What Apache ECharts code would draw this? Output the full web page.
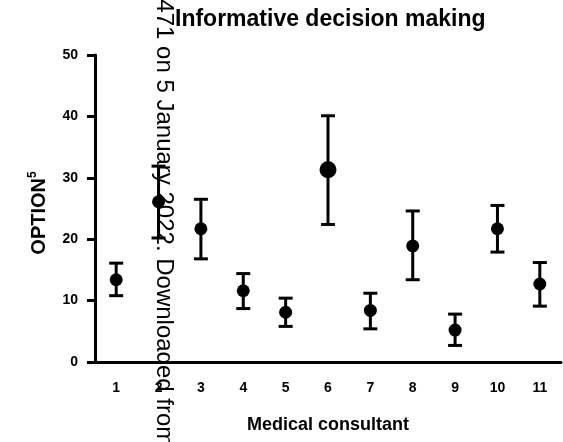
<!DOCTYPE html>
<html>
<head>
<meta charset="utf-8">
<script src="https://cdn.jsdelivr.net/npm/echarts@6/dist/echarts.min.js"></script>
<style>
html,body{margin:0;padding:0;background:#fff;}
#chart{width:563px;height:442px;}
</style>
</head>
<body>
<div id="chart"></div>
<script>
const categories = ['1','2','3','4','5','6','7','8','9','10','11'];
const means = [13.4, 26.1, 21.7, 11.6, 8.1, 31.3, 8.4, 18.9, 5.2, 21.7, 12.7];
const upperBars = [16.1, 31.9, 26.5, 14.4, 10.4, 40.1, 11.2, 24.6, 7.8, 25.5, 16.2];
const lowerBars = [10.8, 20.2, 16.8, 8.7, 5.8, 22.4, 5.4, 13.4, 2.7, 17.9, 9.1];
const markerSizes = [13, 13, 13, 13, 13, 17, 13, 13, 13, 13, 13];
const titleText = 'Informative decision making';
const xName = 'Medical consultant';
const watermark = '6471 on 5 January 2022. Downloaded from';

const FONT = 'Liberation Sans, Arial, sans-serif';
const chart = echarts.init(document.getElementById('chart'), null, {renderer: 'canvas'});

const errData = categories.map((c, i) => [i, lowerBars[i], upperBars[i]]);
const dotData = categories.map((c, i) => ({value: [i, means[i]], symbolSize: markerSizes[i]}));

const option = {
  animation: false,
  backgroundColor: '#fff',
  title: {
    text: titleText,
    left: 175, top: 8, padding: 0,
    textStyle: {fontFamily: FONT, fontWeight: 'bold', fontSize: 23, color: '#000'}
  },
  grid: {left: 95, right: 2, top: 55, bottom: 80, containLabel: false},
  xAxis: {
    type: 'category', data: categories, boundaryGap: true,
    axisLine: {lineStyle: {color: '#000', width: 3}},
    axisTick: {alignWithLabel: true, length: 7, lineStyle: {color: '#000', width: 3}},
    axisLabel: {margin: 19, fontFamily: FONT, fontWeight: 'bold', fontSize: 14, color: '#000'},
    name: xName, nameLocation: 'middle', nameGap: 54,
    nameTextStyle: {fontFamily: FONT, fontWeight: 'bold', fontSize: 18, color: '#000'}
  },
  yAxis: {
    type: 'value', min: 0, max: 50, interval: 10,
    splitLine: {show: false},
    axisLine: {show: true, lineStyle: {color: '#000', width: 3}},
    axisTick: {show: true, length: 8, lineStyle: {color: '#000', width: 3}},
    axisLabel: {margin: 17, fontFamily: FONT, fontWeight: 'bold', fontSize: 14, color: '#000'},
    name: '{a|OPTION}{s|5}', nameLocation: 'middle', nameRotate: 90, nameGap: 46,
    nameTextStyle: {
      padding: [0, 9, 0, 0],
      rich: {
        a: {fontFamily: FONT, fontWeight: 'bold', fontSize: 20, color: '#000', lineHeight: 22, verticalAlign: 'bottom'},
        s: {fontFamily: FONT, fontWeight: 'bold', fontSize: 12, color: '#000', lineHeight: 22, verticalAlign: 'top'}
      }
    }
  },
  series: [
    {
      type: 'custom',
      data: errData,
      z: 2,
      renderItem: function (params, api) {
        const x = api.value(0);
        const lo = api.coord([x, api.value(1)]);
        const hi = api.coord([x, api.value(2)]);
        const hw = 7;
        const st = {stroke: '#000', lineWidth: 3, fill: null};
        return {
          type: 'group',
          children: [
            {type: 'line', shape: {x1: lo[0], y1: lo[1], x2: hi[0], y2: hi[1]}, style: st},
            {type: 'line', shape: {x1: hi[0] - hw, y1: hi[1], x2: hi[0] + hw, y2: hi[1]}, style: st},
            {type: 'line', shape: {x1: lo[0] - hw, y1: lo[1], x2: lo[0] + hw, y2: lo[1]}, style: st}
          ]
        };
      }
    },
    {
      type: 'scatter',
      data: dotData,
      symbol: 'circle',
      z: 3,
      itemStyle: {color: '#000', opacity: 1}
    }
  ],
  graphic: [
    {
      type: 'text',
      x: 164, y: -14,
      rotation: -Math.PI / 2,
      z: 100,
      style: {
        text: watermark,
        font: 'normal 24px ' + FONT,
        fill: '#000',
        textAlign: 'left',
        textVerticalAlign: 'middle'
      }
    }
  ]
};
chart.setOption(option);
</script>
</body>
</html>
